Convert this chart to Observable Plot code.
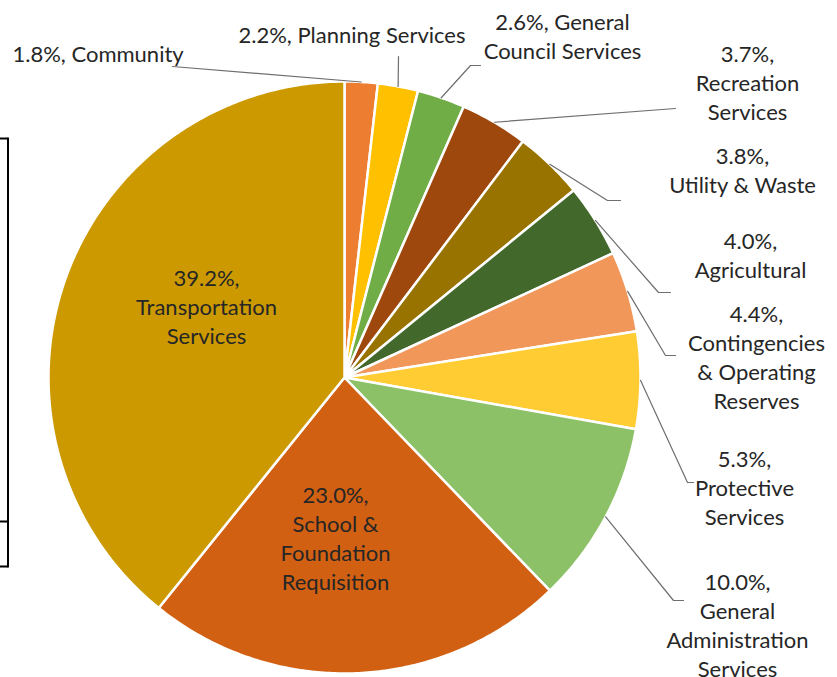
<!DOCTYPE html>
<html>
<head>
<meta charset="utf-8">
<script src="https://cdn.jsdelivr.net/npm/d3@7"></script>
<script src="https://cdn.jsdelivr.net/npm/@observablehq/plot@0.6"></script>
<style>
  html, body { margin: 0; padding: 0; background: #fff; }
  #chart { width: 837px; height: 677px; }
</style>
</head>
<body>
<div id="chart"></div>
<script>
// ---- Data ----
const categories = [
  "Community", "Planning Services", "General Council Services", "Recreation Services",
  "Utility & Waste", "Agricultural", "Contingencies & Operating Reserves",
  "Protective Services", "General Administration Services",
  "School & Foundation Requisition", "Transportation Services"
];
const shares = [1.8, 2.2, 2.6, 3.7, 3.8, 4.0, 4.4, 5.3, 10.0, 23.0, 39.2];
const labelTexts = [
  "1.8%, Community",
  "2.2%, Planning Services",
  "2.6%, General\nCouncil Services",
  "3.7%,\nRecreation\nServices",
  "3.8%,\nUtility & Waste",
  "4.0%,\nAgricultural",
  "4.4%,\nContingencies\n& Operating\nReserves",
  "5.3%,\nProtective\nServices",
  "10.0%,\nGeneral\nAdministration\nServices",
  "23.0%,\nSchool &\nFoundation\nRequisition",
  "39.2%,\nTransportation\nServices"
];
const colors = [
  "#ED7D31", "#FFC000", "#70AD47", "#9E480E", "#997300", "#43682B",
  "#F1975A", "#FFCD33", "#8CC168", "#D26012", "#CC9A00"
];

// ---- Layout (pixel positions of labels, elbows) ----
const center = {x: 344, y: 377};
const radius = 296;
// label anchor [x, y, textAnchor]
const labelPos = [
  [12, 52.5, "start"], [238, 33.5, "start"], [562, 34.5, "middle"], [747, 81.5, "middle"],
  [742, 168.5, "middle"], [750, 253.5, "middle"], [756, 355.5, "middle"], [744, 486.5, "middle"],
  [737, 623.5, "middle"], [335, 536.5, "middle"], [206, 305.5, "middle"]
];
// leader elbows: list of points after the slice edge (null = no leader)
const leaderPts = [
  [[172, 66]], [[398, 56]], [[470, 65], [480, 65]], [[675, 108]],
  [[607, 200], [620, 200]], [[658, 292], [670, 292]], [[665, 355], [675, 355]],
  [[687, 482], [693, 482]], [[673, 600], [683, 600]], null, null
];

// ---- Build geometry from data ----
const data = categories.map((c, i) => ({name: c, value: shares[i], color: colors[i], label: labelTexts[i]}));
const arcs = d3.pie().sort(null).value(d => d.value).startAngle(0).endAngle(2 * Math.PI)(data);

function pt(angle, r) {
  return {x: center.x + r * Math.sin(angle), y: center.y - r * Math.cos(angle)};
}

const slicePolys = arcs.map(a => {
  const pts = [{...center}];
  const n = Math.max(4, Math.ceil((a.endAngle - a.startAngle) / 0.01));
  for (let k = 0; k <= n; k++) {
    const ang = a.startAngle + (a.endAngle - a.startAngle) * k / n;
    pts.push(pt(ang, radius));
  }
  pts.push({...center});
  return {name: a.data.name, color: a.data.color, pts};
});

const leaders = [];
arcs.forEach((a, i) => {
  if (!leaderPts[i]) return;
  const mid = (a.startAngle + a.endAngle) / 2;
  const start = pt(mid, radius);
  const line = [start, ...leaderPts[i].map(([x, y]) => ({x, y}))];
  line.forEach(p => leaders.push({name: a.data.name, x: p.x, y: p.y}));
});

const labels = data.map((d, i) => ({text: d.label, x: labelPos[i][0], y: labelPos[i][1], anchor: labelPos[i][2]}));

// left frame fragments
const frame = [
  {g: "v", x: 7.5, y: 138}, {g: "v", x: 7.5, y: 566},
  {g: "t", x: 0, y: 138}, {g: "t", x: 7.5, y: 138},
  {g: "m", x: 0, y: 521}, {g: "m", x: 7.5, y: 521},
  {g: "b", x: 0, y: 566}, {g: "b", x: 7.5, y: 566}
];

const FONT = "Lato, 'Open Sans', sans-serif";

const marks = [
  ...slicePolys.map(s => Plot.line(s.pts, {
    x: "x", y: "y", fill: s.color, stroke: "white", strokeWidth: 2.5,
    strokeLinejoin: "round", curve: "linear"
  })),
  Plot.line(leaders, {x: "x", y: "y", z: "name", stroke: "#6e6e6e", strokeWidth: 1.2}),
  Plot.line(frame, {x: "x", y: "y", z: "g", stroke: "#000", strokeWidth: 2}),
  ...["start", "middle"].map(anc => Plot.text(labels.filter(l => l.anchor === anc), {
    x: "x", y: "y", text: "text", textAnchor: anc, lineAnchor: "middle",
    lineHeight: 1.32, fontSize: 22, fill: "#262626", fontFamily: FONT
  }))
];

const chart = Plot.plot({
  width: 837,
  height: 677,
  margin: 0,
  x: {domain: [0, 837], range: [0, 837], axis: null},
  y: {domain: [0, 677], range: [0, 677], axis: null},
  style: {fontFamily: FONT, background: "white", overflow: "visible"},
  marks
});
document.getElementById("chart").appendChild(chart);
</script>
</body>
</html>
